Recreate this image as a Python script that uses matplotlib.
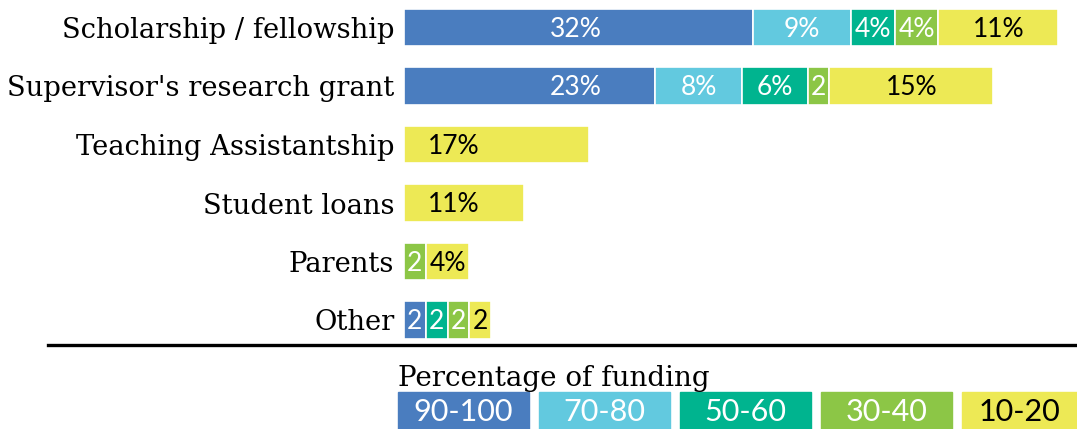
import numpy as np
import matplotlib.pyplot as plt
from matplotlib.patches import Rectangle
from matplotlib.lines import Line2D

sources = ["Scholarship / fellowship", "Supervisor's research grant", "Teaching Assistantship",
           "Student loans", "Parents", "Other"]
bands = ["90-100", "70-80", "50-60", "30-40", "10-20"]
share_90_100 = [32, 23, 0, 0, 0, 2]
share_70_80 = [9, 8, 0, 0, 0, 0]
share_50_60 = [4, 6, 0, 0, 0, 2]
share_30_40 = [4, 2, 0, 0, 2, 2]
share_10_20 = [11, 15, 17, 11, 4, 2]

colors = ["#4a7dbf", "#62c9df", "#00b48f", "#8cc646", "#ede955"]
text_colors = ["white", "white", "white", "white", "black"]

W, H = 1077, 429
fig = plt.figure(figsize=(W / 100, H / 100), dpi=100)
ax = fig.add_axes([404 / W, (H - 345) / H, 1 - 404 / W, 345 / H])

series = [share_90_100, share_70_80, share_50_60, share_30_40, share_10_20]
y = np.arange(len(sources))
left = np.zeros(len(sources))
label_font = ["Lato", "DejaVu Sans"]
for k, vals in enumerate(series):
    vals = np.array(vals, dtype=float)
    ax.barh(y, vals, left=left, height=0.64, color=colors[k], edgecolor="white", linewidth=1.2)
    for i, v in enumerate(vals):
        if v <= 0:
            continue
        txt = f"{int(v)}%" if v > 2 else f"{int(v)}"
        n_seg = sum(1 for s in series if s[i] > 0)
        if n_seg == 1:
            x, ha = left[i] + 2.2, "left"
        elif k == 0 and v > 10:
            x, ha = 13.4, "left"
        else:
            x, ha = left[i] + v / 2, "center"
        ax.text(x, i + 0.03, txt, ha=ha, va="center", color=text_colors[k],
                fontsize=19, family=label_font)
    left += vals

ax.set_xlim(0, 61.7)
ax.set_ylim(5 + 25 / 58.5, -27.5 / 58.5)
ax.set_yticks(y)
ax.set_yticklabels(sources, family="DejaVu Serif", fontsize=19.7)
ax.tick_params(axis="y", length=0, pad=7)
ax.set_xticks([])
for s in ax.spines.values():
    s.set_visible(False)

fig.add_artist(Line2D([48 / W, 1], [(H - 345) / H] * 2, color="black", linewidth=2.4,
                      transform=fig.transFigure))

fig.text(398 / W, (H - 386) / H, "Percentage of funding", family="DejaVu Serif",
         fontsize=20, ha="left", va="baseline")

box_w, gap = 131, 10
for k, band in enumerate(bands):
    x0 = 398 + k * (box_w + gap)
    fig.add_artist(Rectangle((x0 / W, 0), box_w / W, 37 / H, color=colors[k],
                             transform=fig.transFigure, zorder=1))
    xc = x0 + box_w / 2 if k < 4 else x0 + 57
    fig.text(xc / W, 17 / H, band, ha="center", va="center", color=text_colors[k],
             fontsize=22, family=label_font, zorder=2)

plt.savefig("out.png", dpi=100)
